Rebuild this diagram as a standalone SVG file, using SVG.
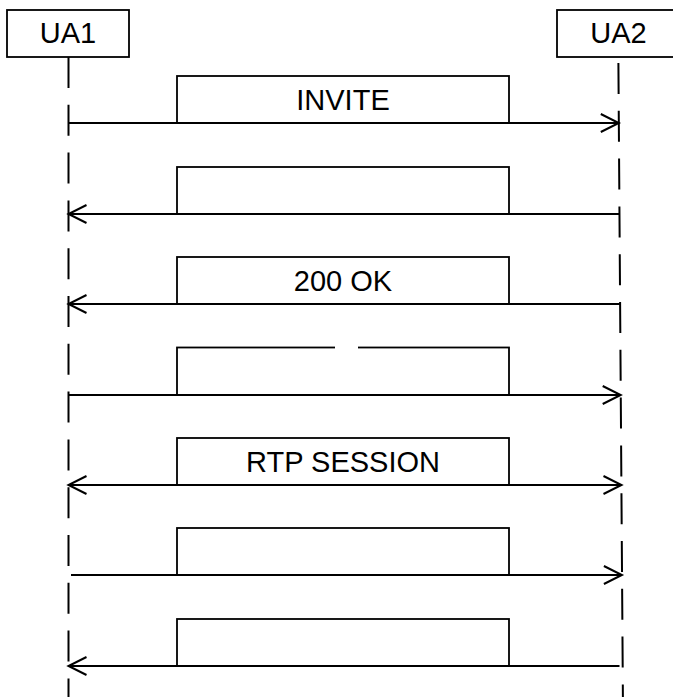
<svg xmlns="http://www.w3.org/2000/svg" width="673" height="697" viewBox="0 0 673 697">
<style>
.box{fill:#fff;stroke:#000;stroke-width:1.8}
.lbl{font-family:"Liberation Sans",Arial,sans-serif;font-size:29px;fill:#000;text-anchor:middle}
.life{stroke:#000;stroke-width:2;stroke-dasharray:31 16.8;fill:none}
.msg{stroke:#000;stroke-width:2;fill:none}
</style>
<defs>
<marker id="ah" markerUnits="userSpaceOnUse" markerWidth="24" markerHeight="24" viewBox="-20 -10 24 20" refX="0" refY="0" orient="auto-start-reverse">
<path d="M-18,-9 L0,0 L-18,9" fill="none" stroke="#000" stroke-width="2"/>
</marker>
</defs>
<rect width="673" height="697" fill="#fff"/>
<g id="lifelines">
<line class="life" x1="68.5" y1="57" x2="68.5" y2="697"/>
<line class="life" x1="618.4" y1="63" x2="622.9" y2="697"/>
</g>
<g id="UA1"><rect class="box" x="7" y="10" width="122" height="47"/><text class="lbl" x="68" y="43">UA1</text></g>
<g id="UA2"><rect class="box" x="557" y="10" width="122" height="47"/><text class="lbl" x="618.5" y="43">UA2</text></g>
<g id="m1"><rect class="box" x="177" y="76" width="332" height="47"/><text class="lbl" x="343" y="109.5">INVITE</text></g>
<g id="m2"><rect class="box" x="177" y="167" width="332" height="47"/></g>
<g id="m3"><rect class="box" x="177" y="257" width="332" height="47"/><text class="lbl" x="343" y="290.5">200 OK</text></g>
<g id="m4"><rect class="box" x="177" y="347.5" width="332" height="47.5"/><rect x="335" y="345.5" width="23" height="3.5" fill="#fff"/></g>
<g id="m5"><rect class="box" x="177" y="438" width="332" height="47"/><text class="lbl" x="343" y="471.5">RTP SESSION</text></g>
<g id="m6"><rect class="box" x="177" y="528" width="332" height="47"/></g>
<g id="m7"><rect class="box" x="177" y="619" width="332" height="47"/></g>
<g id="connectors">
<line class="msg" x1="68.5" y1="123" x2="618.8" y2="123" marker-end="url(#ah)"/>
<line class="msg" x1="619.4" y1="214" x2="68.5" y2="214" marker-end="url(#ah)"/>
<line class="msg" x1="620" y1="304" x2="68.5" y2="304" marker-end="url(#ah)"/>
<line class="msg" x1="68.5" y1="395" x2="620.7" y2="395" marker-end="url(#ah)"/>
<line class="msg" x1="68.5" y1="485" x2="621.5" y2="485" marker-start="url(#ah)" marker-end="url(#ah)"/>
<line class="msg" x1="71" y1="575" x2="621.9" y2="575" marker-end="url(#ah)"/>
<line class="msg" x1="619.5" y1="666" x2="68.5" y2="666" marker-end="url(#ah)"/>
</g>
</svg>
